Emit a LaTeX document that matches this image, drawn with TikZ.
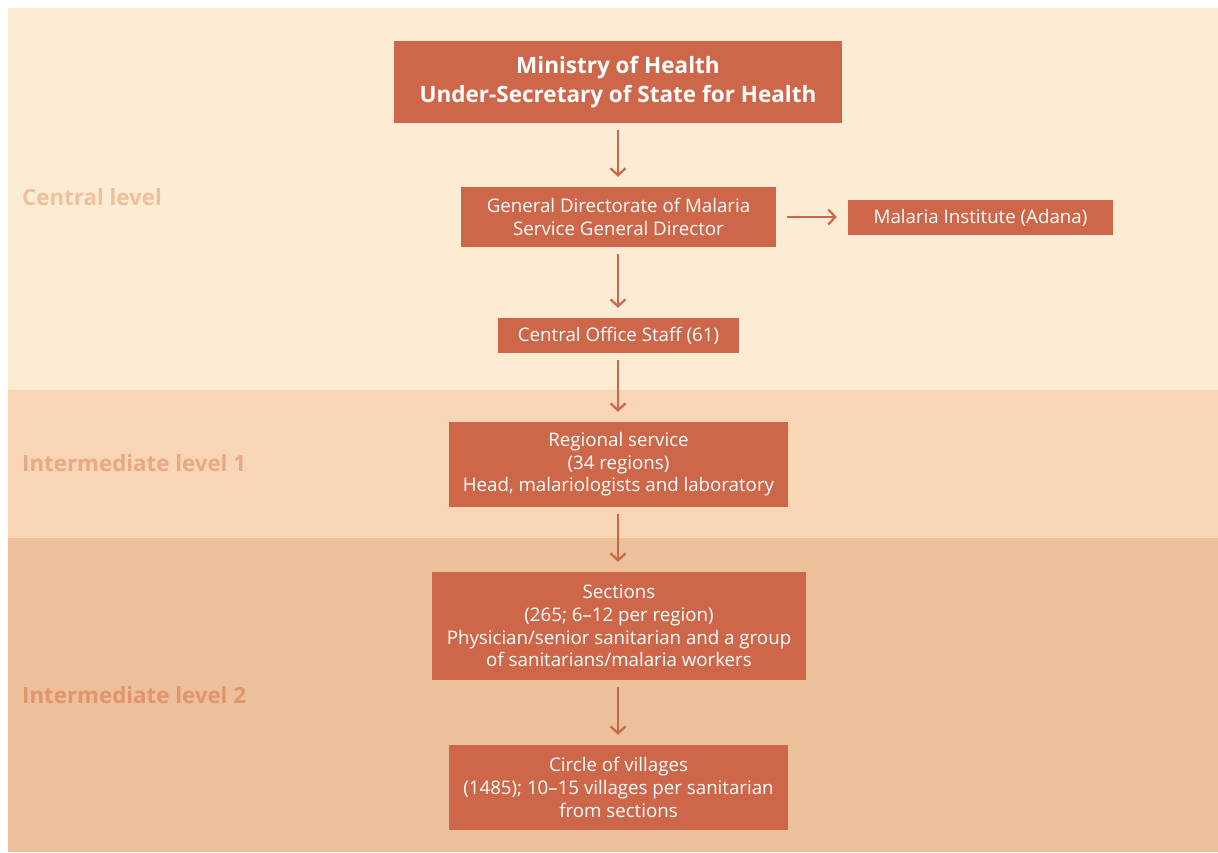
\documentclass[tikz,border=0pt]{standalone}
\usepackage{fontspec}
\setmainfont{Open Sans}
\usetikzlibrary{arrows.meta}
\definecolor{bgone}{HTML}{FDEBD4}
\definecolor{bgtwo}{HTML}{F7D5B5}
\definecolor{bgthree}{HTML}{EBC09A}
\definecolor{boxc}{HTML}{CE6749}
\definecolor{lblone}{HTML}{EEC09C}
\definecolor{lbltwo}{HTML}{E8A984}
\definecolor{lblthree}{HTML}{E29470}
\tikzset{
  unit/.style={fill=boxc, text=white, inner sep=0pt, align=center,
    font=\fontsize{18.7}{22.6}\selectfont},
  headbox/.style={unit, font=\fontsize{22.5}{29}\selectfont\bfseries},
  levellabel/.style={anchor=west, inner sep=0pt, font=\fontsize{22.3}{26}\selectfont\bfseries},
  link/.style={draw=boxc, line width=2.2pt, -{Straight Barb[length=7pt,width=15pt]},
    shorten <=7pt, shorten >=10pt}
}
\begin{document}
\begin{tikzpicture}[x=1pt,y=-1pt]
\useasboundingbox (0,0) rectangle (1218,852);
\fill[white] (0,0) rectangle (1218,852);
\fill[bgone] (8,8) rectangle (1218,390);
\fill[bgtwo] (8,390) rectangle (1218,538);
\fill[bgthree] (8,538) rectangle (1218,852);

\node[levellabel, text=lblone] (lc) at (22,197) {Central level};
\node[levellabel, text=lbltwo] (li1) at (22,463) {Intermediate level 1};
\node[levellabel, text=lblthree] (li2) at (22,695) {Intermediate level 2};

\node[headbox, minimum width=448pt, minimum height=82pt] (min) at (618,82)
  {Ministry of Health\\Under-Secretary of State for Health};
\node[unit, minimum width=315pt, minimum height=60pt] (gen) at (618.5,217)
  {General Directorate of Malaria\\Service General Director};
\node[unit, minimum width=265pt, minimum height=35pt] (inst) at (980.5,217.5)
  {Malaria Institute (Adana)};
\node[unit, minimum width=241pt, minimum height=35pt] (cos) at (618.5,335.5)
  {Central Office Staff (61)};
\node[unit, minimum width=339pt, minimum height=85pt] (reg) at (618.5,464.5)
  {Regional service\\(34 regions)\\Head, malariologists and laboratory};
\node[unit, minimum width=374pt, minimum height=108pt] (sec) at (619,626)
  {Sections\\(265; 6--12 per region)\\Physician/senior sanitarian and a group\\of sanitarians/malaria workers};
\node[unit, minimum width=339pt, minimum height=85pt] (vil) at (618.5,787.5)
  {Circle of villages\\(1485); 10--15 villages per sanitarian\\from sections};

\draw[link] (min.south -| 618,0) -- (gen.north -| 618,0);
\draw[link, shorten <=11pt, shorten >=11pt] (gen.east) -- (inst.west |- gen.east);
\draw[link] (gen.south -| 618,0) -- (cos.north -| 618,0);
\draw[link] (cos.south -| 618,0) -- (reg.north -| 618,0);
\draw[link] (reg.south -| 618,0) -- (sec.north -| 618,0);
\draw[link] (sec.south -| 618,0) -- (vil.north -| 618,0);
\end{tikzpicture}
\end{document}
